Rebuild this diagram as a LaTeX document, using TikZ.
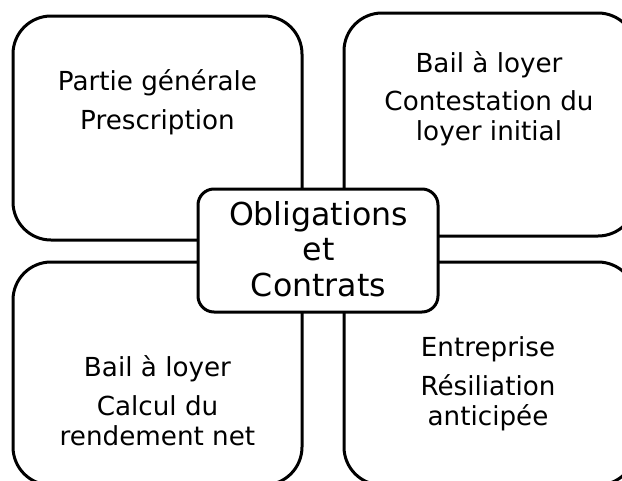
\documentclass[tikz,border=0pt]{standalone}
\usepackage{fontspec}
\setmainfont{DejaVu Sans}
\begin{document}
\begin{tikzpicture}[x=1pt,y=-1pt,
  box/.style={draw=black,line width=3pt,rounded corners=38pt,fill=white,minimum width=#1},
  cbox/.style={draw=black,line width=3pt,rounded corners=16pt,fill=white,minimum width=240pt,minimum height=123pt},
  txt/.style={anchor=base,inner sep=0pt,font=\fontsize{26.2}{30}\selectfont},
  ctxt/.style={anchor=base,inner sep=0pt,font=\fontsize{31.6}{36}\selectfont}]
\useasboundingbox (0,0) rectangle (622,480);
\clip (0,0) rectangle (622,480);
\fill[white] (0,0) rectangle (622,480);
% quadrant boxes
\node[box=289pt,minimum height=224pt] (tl) at (157.5,128) {};
\node[box=292pt,minimum height=223pt] (tr) at (490,124.5) {};
\node[box=289pt,minimum height=223pt] (bl) at (157.5,373.5) {};
\node[box=292pt,minimum height=223pt] (br) at (490,373.5) {};
% centre box
\node[cbox] (c) at (318,250.5) {};
% texts
\node[txt] (tl1) at (157.5,90.5) {Partie générale};
\node[txt] (tl2) at (157.5,129.5) {Prescription};
\node[txt] (tr1) at (489,72) {Bail à loyer};
\node[txt] (tr2) at (489,110.5) {Contestation du};
\node[txt] (tr3) at (489,140) {loyer initial};
\node[txt] (bl1) at (157.5,376) {Bail à loyer};
\node[txt] (bl2) at (157.5,415.5) {Calcul du};
\node[txt] (bl3) at (157.5,445) {rendement net};
\node[txt] (br1) at (488,356) {Entreprise};
\node[txt] (br2) at (488,395.5) {Résiliation};
\node[txt] (br3) at (488,425) {anticipée};
\node[ctxt] (c1) at (318.5,225) {Obligations};
\node[ctxt] (c2) at (318.5,260.5) {et};
\node[ctxt] (c3) at (318.5,296) {Contrats};
\end{tikzpicture}
\end{document}
